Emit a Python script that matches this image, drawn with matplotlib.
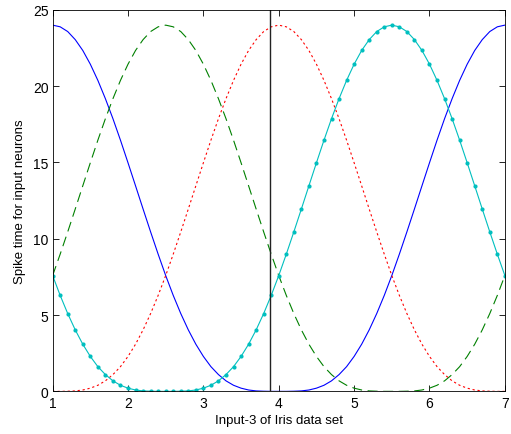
import numpy as np
import matplotlib
matplotlib.use("Agg")
import matplotlib.pyplot as plt

plt.rcParams['font.family'] = ['Liberation Sans', 'DejaVu Sans']
plt.rcParams['font.size'] = 9.5

# input values (x axis), sampled every 0.1
x = np.linspace(1, 7, 61)

# spike times, one list per receptive field
blue = [24.00, 23.89, 23.58, 23.05, 22.34, 21.44, 20.38, 19.18, 17.87, 16.46,
        14.98, 13.47, 11.95, 10.45, 8.99, 7.59, 6.29, 5.10, 4.03, 3.09,
        2.29, 1.62, 1.10, 0.69, 0.40, 0.21, 0.09, 0.03, 0.01, 0.00,
        0.00, 0.00, 0.01, 0.03, 0.09, 0.21, 0.40, 0.69, 1.10, 1.62,
        2.29, 3.09, 4.03, 5.10, 6.29, 7.59, 8.99, 10.45, 11.95, 13.47,
        14.98, 16.46, 17.87, 19.18, 20.38, 21.44, 22.34, 23.05, 23.58, 23.89,
        24.00]
green = [7.59, 8.99, 10.45, 11.95, 13.47, 14.98, 16.46, 17.87, 19.18, 20.38,
         21.44, 22.34, 23.05, 23.58, 23.89, 24.00, 23.89, 23.58, 23.05, 22.34,
         21.44, 20.38, 19.18, 17.87, 16.46, 14.98, 13.47, 11.95, 10.45, 8.99,
         7.59, 6.29, 5.10, 4.03, 3.09, 2.29, 1.62, 1.10, 0.69, 0.40,
         0.21, 0.09, 0.03, 0.01, 0.00, 0.00, 0.00, 0.01, 0.03, 0.09,
         0.21, 0.40, 0.69, 1.10, 1.62, 2.29, 3.09, 4.03, 5.10, 6.29,
         7.59]
red = [0.00, 0.00, 0.01, 0.03, 0.09, 0.21, 0.40, 0.69, 1.10, 1.62,
       2.29, 3.09, 4.03, 5.10, 6.29, 7.59, 8.99, 10.45, 11.95, 13.47,
       14.98, 16.46, 17.87, 19.18, 20.38, 21.44, 22.34, 23.05, 23.58, 23.89,
       24.00, 23.89, 23.58, 23.05, 22.34, 21.44, 20.38, 19.18, 17.87, 16.46,
       14.98, 13.47, 11.95, 10.45, 8.99, 7.59, 6.29, 5.10, 4.03, 3.09,
       2.29, 1.62, 1.10, 0.69, 0.40, 0.21, 0.09, 0.03, 0.01, 0.00,
       0.00]
cyan = [7.59, 6.29, 5.10, 4.03, 3.09, 2.29, 1.62, 1.10, 0.69, 0.40,
        0.21, 0.09, 0.03, 0.01, 0.00, 0.00, 0.00, 0.01, 0.03, 0.09,
        0.21, 0.40, 0.69, 1.10, 1.62, 2.29, 3.09, 4.03, 5.10, 6.29,
        7.59, 8.99, 10.45, 11.95, 13.47, 14.98, 16.46, 17.87, 19.18, 20.38,
        21.44, 22.34, 23.05, 23.58, 23.89, 24.00, 23.89, 23.58, 23.05, 22.34,
        21.44, 20.38, 19.18, 17.87, 16.46, 14.98, 13.47, 11.95, 10.45, 8.99,
        7.59]

# the input value marked by the vertical line
marker_x = 3.88

fig = plt.figure(figsize=(5.11, 4.35), dpi=100)
ax = fig.add_axes([0.103, 0.098, 0.885, 0.877])

ax.plot(x, blue, color=(0, 0, 1), lw=0.8)
ax.plot(x, green, color=(0, 0.5, 0), lw=0.8, linestyle=(0, (9, 5)))
ax.plot(x, red, color=(1, 0, 0), lw=0.8, linestyle=(0, (2, 2.5)))
ax.plot(x, cyan, color=(0, 0.75, 0.75), lw=0.8, marker='o', markersize=3,
        markeredgewidth=0)
ax.axvline(marker_x, color='#222222', lw=1.0)

ax.set_xlim(1, 7)
ax.set_ylim(0, 25)
ax.set_xticks(range(1, 8))
ax.set_yticks(range(0, 26, 5))
ax.tick_params(direction='in', top=True, right=True, length=4, width=0.6,
               labelsize=10, pad=3)
for s in ax.spines.values():
    s.set_linewidth(0.6)

ax.set_xlabel('Input-3 of Iris data set', labelpad=3)
ax.set_ylabel('Spike time for input neurons', labelpad=5)

fig.savefig('out.png', dpi=100)
